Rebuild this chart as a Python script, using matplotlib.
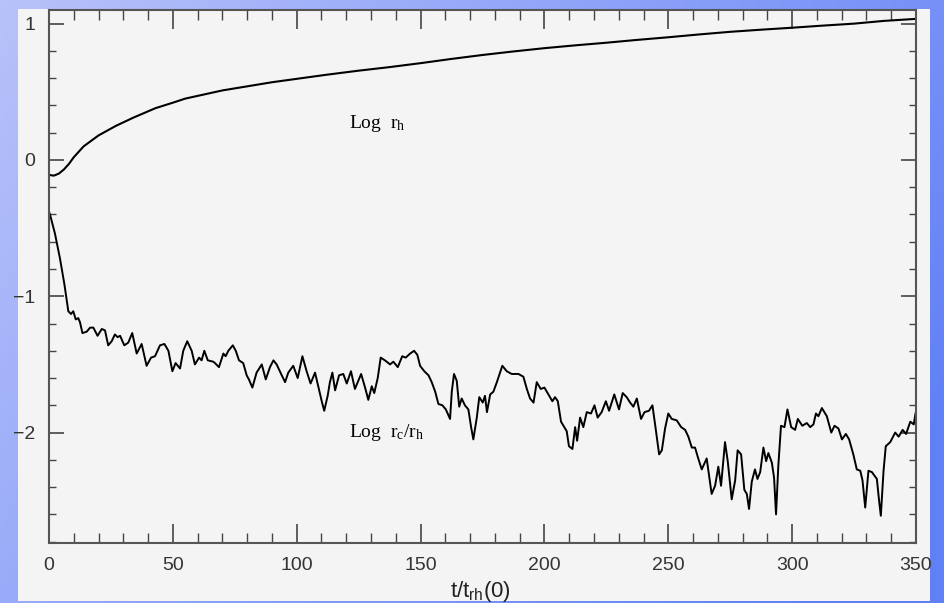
import numpy as np
import matplotlib
matplotlib.use("Agg")
import matplotlib.pyplot as plt
from matplotlib.patches import Rectangle

# Log r_h (upper curve)
t_rh = [0, 2, 4, 6, 8, 10, 14, 20, 27, 34, 43, 50, 55, 60, 65, 70, 80, 90, 100,
        112, 125, 137, 150, 162, 175, 187, 200, 212, 225, 237, 250, 262, 275,
        287, 300, 312, 325, 337, 350]
log_rh = [-0.11, -0.115, -0.10, -0.07, -0.03, 0.02, 0.10, 0.18, 0.25, 0.31, 0.38,
          0.42, 0.45, 0.47, 0.49, 0.51, 0.54, 0.57, 0.595, 0.625, 0.655, 0.68,
          0.71, 0.74, 0.77, 0.795, 0.82, 0.84, 0.86, 0.88, 0.90, 0.92, 0.94,
          0.955, 0.97, 0.985, 1.00, 1.02, 1.035]

# Log r_c/r_h (lower curve)
t_rc = [0, 0.4, 2.4, 4.4, 6.2, 7.8, 8.9, 9.8, 10.8, 11.8, 12.5, 13.5, 15.2, 16.6,
        17.9, 19.6, 21.3, 22.6, 23.9, 25.3, 26.6, 27.7, 28.7, 30.4, 32.0, 33.6,
        35.4, 37.4, 39.4, 41.2, 42.8, 44.8, 46.6, 48.2, 49.8, 51.1, 52.9, 54.2,
        55.8, 57.6, 58.9, 60.6, 61.6, 62.7, 64.1, 66.3,
        67.0, 68.6, 70.4, 71.3, 72.4, 74.2, 75.4, 76.7, 78.4, 79.8, 80.7, 82.1,
        83.8, 85.9, 87.5, 89.2, 90.6, 91.9, 93.7, 95.3, 96.6, 98.6, 100.4, 102.3,
        104.0, 105.6, 107.4, 108.7, 110.1, 111.1, 112.5, 113.4, 114.4, 115.5,
        117.1, 118.8, 120.2, 121.9, 123.5, 126.0, 127.6, 128.9, 130.3, 131.3,
        132.7, 133.9,
        135.6, 137.7, 139.0, 140.8, 142.6, 144.0, 145.8, 147.4, 148.7, 149.8,
        151.5, 153.2, 154.5, 155.9, 157.2, 158.8, 160.2, 161.9, 162.6, 163.5,
        164.6, 165.6, 166.6, 167.9, 169.3, 170.4, 171.3, 172.7, 173.7, 175.1,
        176.0, 176.8, 178.1, 179.4, 180.8, 183.0, 184.8, 186.8, 189.5, 191.5,
        192.9, 194.2, 195.6, 196.9, 198.5, 200.0, 201.6, 203.2,
        204.3, 205.4, 206.7, 208.0, 209.0, 209.9, 211.3, 212.4, 213.2, 214.4,
        215.7, 217.1, 218.8, 220.2, 221.5, 223.1, 224.8, 226.1, 228.2, 230.1,
        231.6, 233.2, 234.6, 235.9, 237.3, 239.0, 240.4, 242.2, 243.6, 244.9,
        246.3, 247.4, 248.7, 250.0, 251.4, 253.4, 255.2, 256.8, 258.1, 259.5,
        260.8, 262.1, 263.5, 265.5, 267.5, 268.9, 270.2, 271.3,
        272.9, 274.0, 275.6, 277.0, 278.0, 279.4, 280.7, 281.7, 282.6, 283.7,
        285.0, 286.0, 287.1, 288.4, 289.5, 290.4, 291.8, 292.7, 293.5, 294.4,
        295.5, 296.9, 298.1, 299.6, 301.2, 302.3, 304.1, 305.9, 307.3, 308.6,
        309.6, 310.6, 312.0, 314.0, 315.8, 317.1, 318.7, 320.1, 321.7, 323.0,
        324.7, 326.1, 327.5, 328.4, 329.5, 330.8, 332.2, 334.2, 335.1, 335.8,
        336.9, 337.8, 339.6, 341.6, 343.0, 344.6, 346.0, 347.7, 349.1, 349.8]
log_rc_rh = [-0.38, -0.40, -0.54, -0.72, -0.91, -1.11, -1.13, -1.11, -1.17, -1.16,
             -1.19, -1.27, -1.26, -1.23, -1.23, -1.29, -1.24, -1.25, -1.36, -1.33,
             -1.28, -1.30, -1.29, -1.36, -1.34, -1.27, -1.42, -1.35, -1.51, -1.45,
             -1.44, -1.36, -1.35, -1.40, -1.55, -1.49, -1.53, -1.40, -1.33, -1.40,
             -1.50, -1.45, -1.47, -1.40, -1.47, -1.48,
             -1.49, -1.52, -1.42, -1.44, -1.40, -1.36, -1.40, -1.47, -1.49, -1.58,
             -1.61, -1.67, -1.56, -1.50, -1.61, -1.52, -1.47, -1.50, -1.57, -1.63,
             -1.56, -1.51, -1.60, -1.44, -1.55, -1.64, -1.56, -1.66, -1.77, -1.84,
             -1.73, -1.63, -1.56, -1.69, -1.58, -1.57, -1.64, -1.55, -1.68, -1.57,
             -1.67, -1.76, -1.66, -1.71, -1.60, -1.45,
             -1.47, -1.50, -1.48, -1.52, -1.44, -1.45, -1.42, -1.40, -1.43, -1.51,
             -1.55, -1.58, -1.63, -1.70, -1.79, -1.80, -1.83, -1.90, -1.70, -1.57,
             -1.62, -1.81, -1.75, -1.80, -1.83, -1.96, -2.05, -1.89, -1.74, -1.78,
             -1.73, -1.85, -1.72, -1.70, -1.63, -1.51, -1.55, -1.57, -1.57, -1.59,
             -1.68, -1.75, -1.78, -1.63, -1.68, -1.67, -1.72, -1.77,
             -1.74, -1.77, -1.92, -1.96, -1.99, -2.10, -2.12, -1.96, -2.06, -1.89,
             -1.96, -1.85, -1.86, -1.80, -1.89, -1.85, -1.77, -1.84, -1.72, -1.83,
             -1.71, -1.74, -1.78, -1.81, -1.75, -1.90, -1.85, -1.84, -1.80, -1.97,
             -2.16, -2.13, -1.97, -1.86, -1.90, -1.91, -1.96, -1.98, -2.03, -2.11,
             -2.11, -2.19, -2.27, -2.19, -2.45, -2.39, -2.25, -2.39,
             -2.07, -2.21, -2.49, -2.35, -2.13, -2.16, -2.42, -2.45, -2.56, -2.36,
             -2.27, -2.34, -2.29, -2.11, -2.21, -2.15, -2.22, -2.33, -2.60, -2.25,
             -1.95, -1.96, -1.83, -1.96, -1.98, -1.90, -1.95, -1.93, -1.96, -1.94,
             -1.86, -1.88, -1.82, -1.88, -2.00, -1.95, -1.97, -2.05, -2.01, -2.05,
             -2.16, -2.27, -2.28, -2.35, -2.55, -2.28, -2.29, -2.34, -2.50, -2.61,
             -2.28, -2.10, -2.07, -2.00, -2.03, -1.98, -2.01, -1.92, -1.94, -1.86]

W, H = 944, 603
plt.rcParams["mathtext.default"] = "regular"
fig = plt.figure(figsize=(W / 100, H / 100), dpi=100)

# blue gradient backdrop
bg = fig.add_axes([0, 0, 1, 1], zorder=-10)
gx, gy = np.meshgrid(np.linspace(0, 1, 200), np.linspace(0, 1, 130))
s = np.clip(0.75 * gx + 0.35 * gy, 0, 1)[..., None]
c1 = np.array([184, 194, 250]) / 255
c2 = np.array([96, 128, 246]) / 255
bg.imshow(c1 * (1 - s) + c2 * s, aspect="auto", extent=[0, 1, 0, 1], origin="upper")
bg.set_axis_off()
bg.add_patch(Rectangle((18 / W, 2 / H), (930 - 18) / W, (601 - 9) / H,
                       facecolor="#f4f4f4", edgecolor="none"))

ax = fig.add_axes([49 / W, 1 - 543 / H, (916 - 49) / W, (543 - 10) / H])
ax.set_facecolor("#f4f4f4")
ax.plot(t_rh, log_rh, color="black", lw=1.5)
ax.plot(t_rc, log_rc_rh, color="black", lw=1.4)

ax.set_xlim(0, 350)
ax.set_ylim(-2.81, 1.1)
ax.set_xticks(np.arange(0, 351, 50))
ax.set_xticks(np.arange(0, 351, 10), minor=True)
ax.set_yticks([-2, -1, 0, 1])
ax.set_yticks(np.arange(-2.8, 1.1, 0.2), minor=True)
ax.tick_params(which="both", direction="in", top=True, right=True,
               color="#444444", labelsize=14, labelcolor="#333333")
ax.tick_params(axis="x", which="major", length=14, width=1.2, pad=10)
ax.tick_params(axis="x", which="minor", length=7, width=1.0)
ax.tick_params(axis="y", which="major", length=11, width=1.2, pad=10)
ax.tick_params(axis="y", which="minor", length=5, width=1.0)
for sp in ax.spines.values():
    sp.set_color("#555555")
    sp.set_linewidth(1.5)
for lab in ax.get_xticklabels() + ax.get_yticklabels():
    lab.set_fontfamily("Liberation Sans")

ax.text(121, 0.237, "Log  r$_{h}$", fontsize=14, family="Liberation Serif")
ax.text(121, -2.035, "Log  r$_{c}$/r$_{h}$", fontsize=14, family="Liberation Serif")
fig.text(480 / W, 1 - 591 / H, "t/t$_{rh}$(0)", fontsize=16, family="Liberation Sans",
         ha="center", va="center", color="#222222")

fig.savefig("out.png", dpi=100, facecolor=fig.get_facecolor())
